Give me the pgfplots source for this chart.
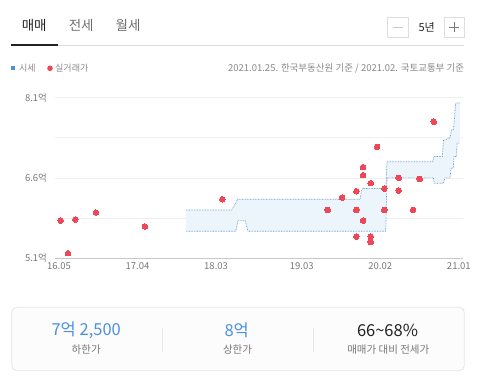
\documentclass[border=0pt]{standalone}
\usepackage{pgfplots}
\pgfplotsset{compat=1.18}
\usepgfplotslibrary{fillbetween}
\usepackage{fontspec}
\setmainfont{Noto Sans CJK KR}
\definecolor{bandline}{RGB}{95,150,215}
\definecolor{bandfill}{RGB}{236,244,252}
\definecolor{dotred}{RGB}{238,72,88}
\definecolor{legblue}{RGB}{74,144,226}
\definecolor{valblue}{RGB}{74,144,226}
\definecolor{gridgray}{RGB}{240,240,240}
\definecolor{axisgray}{RGB}{200,200,200}
\definecolor{labgray}{RGB}{120,120,120}
\definecolor{txtgray}{RGB}{136,136,136}
\definecolor{tabgray}{RGB}{110,110,110}
\definecolor{linegray}{RGB}{222,222,222}
\definecolor{boxfill}{RGB}{252,252,253}
\definecolor{boxline}{RGB}{230,230,232}
\definecolor{dark}{RGB}{34,34,34}
\begin{document}
\begin{tikzpicture}
\begin{scope}[x=1pt,y=-1pt]
\path[use as bounding box] (0,0) rectangle (480,381);
% tabs
\node[text=dark,font=\fontsize{13.5}{15}\selectfont] at (34.2,25) {매매};
\node[text=tabgray,font=\fontsize{13.5}{15}\selectfont] at (81.2,25) {전세};
\node[text=tabgray,font=\fontsize{13.5}{15}\selectfont] at (128,25) {월세};
\draw[linegray,line width=0.8pt] (11,45) -- (464.3,45);
\draw[dark,line width=1.6pt] (11,45) -- (57.7,45);
% zoom controls
\draw[linegray,line width=0.7pt] (387.3,17.3) rectangle (408.3,37.3);
\draw[axisgray,line width=0.7pt] (392.8,27.3) -- (402.8,27.3);
\node[text=dark,font=\fontsize{11}{13}\selectfont] at (426.7,27.3) {5년};
\draw[linegray,line width=0.7pt] (444.3,17.3) rectangle (464.3,37.3);
\draw[labgray,line width=0.7pt] (449.3,27.3) -- (459.3,27.3) (454.3,22.3) -- (454.3,32.3);
% legend row
\fill[legblue] (11,66.3) rectangle (15,70.3);
\node[anchor=west,inner sep=0,text=txtgray,font=\fontsize{9}{11}\selectfont] at (19,68.3) {시세};
\fill[dotred] (50,68.3) circle (2.8);
\node[anchor=west,inner sep=0,text=txtgray,font=\fontsize{9}{11}\selectfont] at (55,68.3) {실거래가};
\node[anchor=east,inner sep=0,text=txtgray,font=\fontsize{9.5}{11}\selectfont] at (464.3,68.3) {2021.01.25. 한국부동산원 기준 / 2021.02. 국토교통부 기준};
% summary box
\draw[boxline,fill=boxfill,rounded corners=5pt,line width=0.8pt] (11.7,307.3) rectangle (464.3,370.7);
\draw[boxline,line width=0.8pt] (162.7,328) -- (162.7,351.7) (313.3,328) -- (313.3,351.7);
\node[text=valblue,font=\fontsize{16.5}{18}\selectfont] at (86.2,330.7) {7억 2,500};
\node[text=labgray,font=\fontsize{10.5}{12}\selectfont] at (86.2,350) {하한가};
\node[text=valblue,font=\fontsize{16.5}{18}\selectfont] at (236.7,330.7) {8억};
\node[text=labgray,font=\fontsize{10.5}{12}\selectfont] at (237.5,350) {상한가};
\node[text=dark,font=\fontsize{16.5}{18}\selectfont] at (387.5,330.7) {66\textasciitilde68\%};
\node[text=labgray,font=\fontsize{10.5}{12}\selectfont] at (388.3,350) {매매가 대비 전세가};
\end{scope}
\begin{axis}[
  at={(55pt,-258pt)}, anchor=south west,
  scale only axis, width=408pt, height=160.3pt,
  xmin=-0.56, xmax=56.58, ymin=5.1, ymax=8.1,
  axis x line*=bottom, axis y line*=left,
  x axis line style={draw=axisgray,line width=0.8pt,-},
  y axis line style={draw=none},
  major tick length=0pt, minor tick length=0pt,
  xtick={0,11,22,34,45,56},
  xticklabels={16.05,17.04,18.03,19.03,20.02,21.01},
  ytick={5.1,6.6,8.1},
  yticklabels={5.1억,6.6억,8.1억},
  minor ytick={5.85,7.35},
  ymajorgrids, yminorgrids,
  major grid style={draw=gridgray,line width=0.7pt},
  minor grid style={draw=gridgray,line width=0.7pt},
  ticklabel style={font=\fontsize{9.5}{11}\selectfont,text=labgray},
  yticklabel style={xshift=-4.5pt},
  xticklabel style={yshift=-1pt},
  /pgf/number format/assume math mode=true,
]
\addplot[name path=U, bandline, line width=0.7pt, dash pattern=on 0.7pt off 0.9pt] coordinates {
(17.79,6.0) (24.19,6.0) (25.03,6.2) (42.16,6.2) (42.44,6.4) (45.76,6.4) (45.94,6.9) (52.34,6.9) (52.52,7.0) (53.68,7.0) (53.85,7.3) (54.8,7.35) (54.95,7.5) (55.25,7.5) (55.55,8.0) (56.16,8.0)};
\addplot[name path=L, bandline, line width=0.7pt, dash pattern=on 0.7pt off 0.9pt] coordinates {
(17.79,5.6) (24.75,5.6) (25.07,5.8) (26.09,5.8) (26.47,5.6) (45.76,5.6) (45.94,6.6) (52.44,6.6) (52.56,6.5) (53.82,6.5) (54.06,6.6) (54.76,6.6) (54.9,6.78) (55.22,6.78) (55.32,7.0) (55.68,7.0) (55.74,7.25) (56.16,7.25)};
\addplot[bandfill, draw=none] fill between[of=U and L];
\addplot[dotred, only marks, mark=*, mark size=2.8pt, mark options={solid, fill=dotred, draw=dotred, line width=0pt}] coordinates {
(0.24,5.80) (1.26,5.19) (2.28,5.82) (5.18,5.95) (12.04,5.69) (22.87,6.20) (37.63,6.00) (39.64,6.23) (41.64,6.35) (41.64,6.00) (41.64,5.50) (42.58,6.80) (42.58,6.65) (42.58,5.80) (43.66,6.50) (43.66,5.50) (43.66,5.40) (44.54,7.18) (45.56,6.40) (45.56,6.00) (47.58,6.60) (47.58,6.36) (49.58,6.00) (50.52,6.58) (52.48,7.65)};
\end{axis}
\end{tikzpicture}
\end{document}
